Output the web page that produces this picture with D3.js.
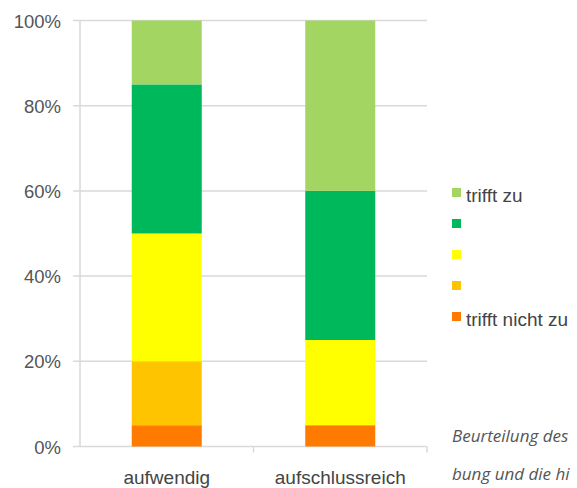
<!DOCTYPE html>
<html>
<head>
<meta charset="utf-8">
<script src="https://cdn.jsdelivr.net/npm/d3@7"></script>
<style>
body { margin:0; background:#fff; overflow:hidden; }
svg { display:block; }
</style>
</head>
<body>
<script>
// DATA

var categories = ["aufwendig", "aufschlussreich"];

// stacked from bottom (trifft nicht zu) to top (trifft zu), in percent
var series_names = ["trifft nicht zu", "", "", "", "trifft zu"];
var series_values = [
	[5, 5],    // trifft nicht zu
	[15, 0],
	[30, 20],
	[35, 35],
	[15, 40]   // trifft zu
];
var series_colors = ["#ff7a00", "#ffc400", "#ffff00", "#00b85c", "#a2d562"];

var y_ticks = [0, 20, 40, 60, 80, 100];
// caption beside the chart, only the part that is visible in the picture
var caption_lines = ["Beurteilung des", "bung und die hi"];

// SETUP

var width = 577, height = 488;
var svg = d3.select("body").append("svg")
			.attr("width", width)
			.attr("height", height);

var x = d3.scaleBand().domain(categories).range([80, 427]).paddingInner(0).paddingOuter(0);
var y = d3.scaleLinear().domain([0, 100]).range([446.5, 20.5]);
var bar_width = 70;

var font = "'Liberation Sans', Arial, Helvetica, sans-serif";

// gridlines
svg.append("g")
	.selectAll("line")
	.data(y_ticks)
	.enter()
	.append("line")
	.attr("x1", 73)
	.attr("x2", 427)
	.attr("y1", function(d){ return y(d); })
	.attr("y2", function(d){ return y(d); })
	.attr("stroke", "#d9d9d9")
	.attr("stroke-width", 1.5);

// y axis line
svg.append("line")
	.attr("x1", 80).attr("x2", 80)
	.attr("y1", y(100)).attr("y2", y(0))
	.attr("stroke", "#d9d9d9")
	.attr("stroke-width", 1.5);

// category ticks
var cat_ticks = categories.map(function(c){ return x(c) + x.bandwidth(); });
svg.append("g")
	.selectAll("line")
	.data(cat_ticks)
	.enter()
	.append("line")
	.attr("x1", function(d){ return d; })
	.attr("x2", function(d){ return d; })
	.attr("y1", y(0))
	.attr("y2", y(0) + 6)
	.attr("stroke", "#d9d9d9")
	.attr("stroke-width", 1.5);

// y tick labels
svg.append("g")
	.selectAll("text")
	.data(y_ticks)
	.enter()
	.append("text")
	.attr("x", 61)
	.attr("y", function(d){ return y(d) + 7; })
	.attr("text-anchor", "end")
	.attr("font-family", font)
	.attr("font-size", "18.5px")
	.attr("fill", "#555")
	.text(function(d){ return d + "%"; });

// BARS
var stack_data = [];
categories.forEach(function(c, ci){
	var base = 0;
	series_values.forEach(function(vals, si){
		stack_data.push({"cat":c, "s":si, "y0":base, "y1":base + vals[ci]});
		base += vals[ci];
	});
});

svg.append("g")
	.selectAll("rect")
	.data(stack_data.filter(function(d){ return d.y1 > d.y0; }))
	.enter()
	.append("rect")
	.attr("x", function(d){ return x(d.cat) + (x.bandwidth() - bar_width) / 2; })
	.attr("y", function(d){ return y(d.y1); })
	.attr("width", bar_width)
	.attr("height", function(d){ return y(d.y0) - y(d.y1); })
	.attr("fill", function(d){ return series_colors[d.s]; });

// category labels
svg.append("g")
	.selectAll("text")
	.data(categories)
	.enter()
	.append("text")
	.attr("x", function(d){ return x(d) + x.bandwidth() / 2; })
	.attr("y", 484)
	.attr("text-anchor", "middle")
	.attr("font-family", font)
	.attr("font-size", "19px")
	.attr("fill", "#444")
	.text(function(d){ return d; });

// LEGEND (top entry = trifft zu)
var legend_order = d3.range(series_names.length).reverse();
var legend = svg.append("g")
	.selectAll("g")
	.data(legend_order)
	.enter()
	.append("g")
	.attr("transform", function(d, i){ return "translate(452," + (188 + i * 31) + ")"; });

legend.append("rect")
	.attr("width", 9)
	.attr("height", 9)
	.attr("fill", function(d){ return series_colors[d]; });

legend.append("text")
	.attr("x", 14)
	.attr("y", 14)
	.attr("font-family", font)
	.attr("font-size", "19px")
	.attr("fill", "#444")
	.text(function(d){ return series_names[d]; });

// caption
svg.append("g")
	.selectAll("text")
	.data(caption_lines)
	.enter()
	.append("text")
	.attr("x", 452)
	.attr("y", function(d, i){ return 442 + i * 38; })
	.attr("font-family", "'Open Sans', sans-serif")
	.attr("font-style", "italic")
	.attr("font-size", "17px")
	.attr("fill", "#555")
	.text(function(d){ return d; });
</script>
</body>
</html>
